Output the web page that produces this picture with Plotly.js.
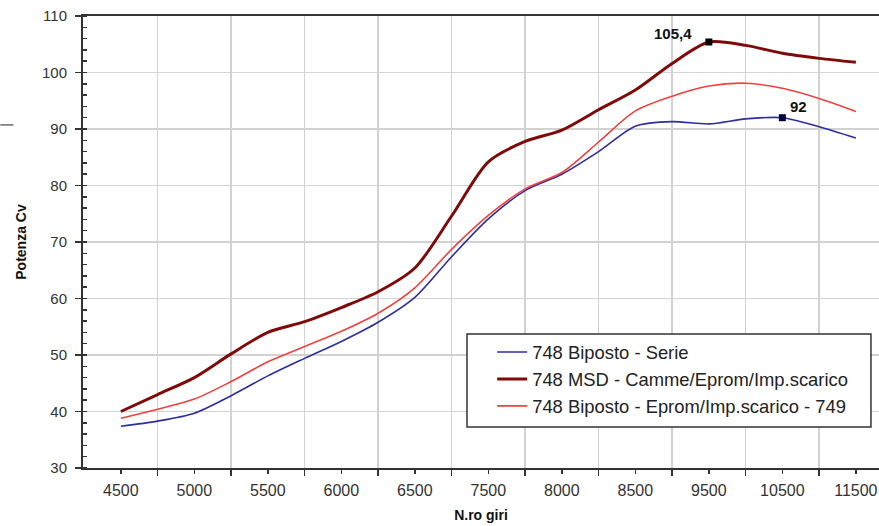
<!DOCTYPE html>
<html><head><meta charset="utf-8">
<script src="https://cdn.plot.ly/plotly-3.0.1.min.js"></script>
<style>html,body{margin:0;padding:0;background:#fff}#chart{width:879px;height:526px}</style>
</head><body><div id="chart"></div>
<script>
// rpm categories (every tick); labels shown only on alternate ones, as in the original
const rpm = ['4500','4750','5000','5250','5500','5750','6000','6250','6500','7000','7500','7750','8000','8250','8500','9000','9500','10000','10500','11000','11500'];
const tickLabels = ['4500','5000','5500','6000','6500','7500','8000','8500','9500','10500','11500'];
const gridCats = ['4750','5250','5750','6250','7000','7750','8250','9000','10000','11000'];

const serie    = [37.4, 38.3, 39.7, 42.8, 46.3, 49.4, 52.4, 55.8, 60.2, 67.4, 74.1, 79.1, 82.0, 86.0, 90.5, 91.3, 90.9, 91.8, 92.0, 90.4, 88.4];
const msd      = [40.0, 43.0, 46.0, 50.2, 54.0, 55.9, 58.4, 61.2, 65.4, 74.6, 84.2, 87.8, 89.8, 93.4, 96.9, 101.6, 105.4, 104.8, 103.4, 102.5, 101.8];
const eprom749 = [38.8, 40.4, 42.2, 45.3, 48.8, 51.5, 54.2, 57.4, 61.9, 68.7, 74.7, 79.4, 82.3, 87.7, 93.2, 95.8, 97.6, 98.1, 97.2, 95.4, 93.1];

const seriesNames = ['748 Biposto - Serie', '748 MSD - Camme/Eprom/Imp.scarico', '748 Biposto - Eprom/Imp.scarico - 749'];
const peakRpm = ['9500', '10500'];
const peakLabels = ['105,4', '92'];

const FONT = 'Liberation Sans, Arial, sans-serif';

const peakIdx = peakRpm.map(r => rpm.indexOf(r));
const peakVals = [msd[peakIdx[0]], serie[peakIdx[1]]];

const traces = [
  {x: rpm, y: serie, name: seriesNames[0], type: 'scatter', mode: 'lines', legendgroup: 'a',
   line: {color: '#2e2e9e', width: 1.6, shape: 'spline', smoothing: 0.8}},
  {x: rpm, y: msd, name: seriesNames[1], type: 'scatter', mode: 'lines', legendgroup: 'b',
   line: {color: '#7e0a0a', width: 3, shape: 'spline', smoothing: 0.8}},
  {x: rpm, y: eprom749, name: seriesNames[2], type: 'scatter', mode: 'lines', legendgroup: 'c',
   line: {color: '#f04040', width: 1.6, shape: 'spline', smoothing: 0.8}},
  {x: peakRpm, y: peakVals, type: 'scatter', mode: 'markers', showlegend: false, hoverinfo: 'skip',
   marker: {symbol: 'square', size: 7, color: ['#000000', '#000040']}}
];

const layout = {
  width: 879, height: 526,
  margin: {l: 83, r: 0, t: 16, b: 58},
  paper_bgcolor: '#fff', plot_bgcolor: '#fff',
  font: {family: FONT, color: '#222'},
  showlegend: true,
  legend: {
    x: 0.4826, y: 0.2975, xanchor: 'left', yanchor: 'top',
    bgcolor: 'rgba(0,0,0,0)', borderwidth: 0,
    font: {size: 18.4, family: FONT, color: '#222'},
    indentation: 25, tracegroupgap: 11.5, traceorder: 'normal'
  },
  xaxis: {
    type: 'category', categoryorder: 'array', categoryarray: rpm,
    range: [-1.03, 20.63],
    tickmode: 'array', tickvals: tickLabels, ticktext: tickLabels,
    showgrid: false, ticks: 'outside', ticklen: 4, tickwidth: 1.5, tickcolor: '#333',
    ticklabelstandoff: 3,
    tickfont: {size: 16, family: FONT, color: '#333'},
    showline: true, linecolor: '#333', linewidth: 2, mirror: true,
    minor: {tickmode: 'array', tickvals: gridCats, showgrid: true, gridcolor: '#d2d2d2', gridwidth: 1.5,
            ticks: 'outside', ticklen: 6, tickwidth: 1.5, tickcolor: '#333'},
    title: {text: '<b>N.ro giri</b>', font: {size: 14, family: FONT, color: '#111'}, standoff: 12},
    fixedrange: true
  },
  yaxis: {
    range: [30, 110], tick0: 30, dtick: 10,
    showgrid: true, gridcolor: '#d2d2d2', gridwidth: 1.5,
    ticks: 'outside', ticklen: 6, tickwidth: 1.5, tickcolor: '#333',
    ticklabelstandoff: 5,
    tickfont: {size: 15, family: FONT, color: '#333'},
    showline: true, linecolor: '#333', linewidth: 2, zeroline: false,
    minor: {dtick: 2, ticks: 'inside', ticklen: 4, tickwidth: 1.5, tickcolor: '#333', showgrid: false},
    title: {text: '<b>Potenza Cv</b>', font: {size: 14, family: FONT, color: '#111'}, standoff: 12},
    fixedrange: true
  },
  annotations: [
    {x: peakIdx[0], y: peakVals[0], xref: 'x', yref: 'y', text: '<b>' + peakLabels[0] + '</b>', showarrow: false,
     xanchor: 'right', yanchor: 'bottom', xshift: -15, yshift: -2, font: {size: 15, family: FONT, color: '#111'}},
    {x: peakIdx[1], y: peakVals[1], xref: 'x', yref: 'y', text: '<b>' + peakLabels[1] + '</b>', showarrow: false,
     xanchor: 'left', yanchor: 'bottom', xshift: 6, yshift: 1, font: {size: 15, family: FONT, color: '#111'}}
  ],
  shapes: [
    {type: 'line', xref: 'paper', yref: 'paper', x0: -0.1039, x1: -0.0875, y0: 0.759, y1: 0.759,
     line: {color: '#444', width: 1.2}},
    {type: 'rect', xref: 'paper', yref: 'paper', x0: 0.4824, x1: 0.9899, y0: 0.0907, y1: 0.2965,
     layer: 'above', fillcolor: '#fff', line: {color: '#333', width: 1.5}}
  ]
};

Plotly.newPlot('chart', traces, layout, {displayModeBar: false, staticPlot: true});
</script>
</body></html>
